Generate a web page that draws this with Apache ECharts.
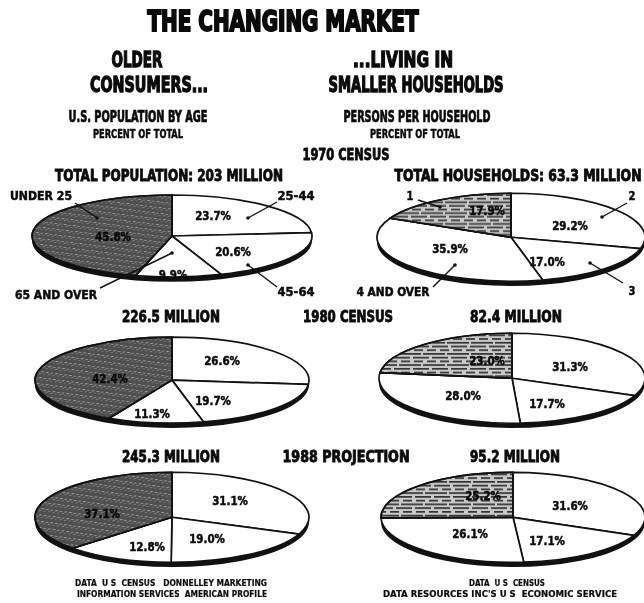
<!DOCTYPE html>
<html>
<head>
<meta charset="utf-8">
<script src="https://cdn.jsdelivr.net/npm/echarts@6/dist/echarts.min.js"></script>
<style>
html, body { margin: 0; padding: 0; background: #fff; }
#wrap { position: relative; width: 644px; height: 603px; overflow: hidden; background: #fff; }
.pie { position: absolute; }
.pie svg path { vector-effect: non-scaling-stroke; }
#text { position: absolute; left: 0; top: 0; width: 644px; height: 603px; z-index: 5; }
</style>
</head>
<body>
<div id="wrap">
  <div id="p0" class="pie"></div>
  <div id="p1" class="pie"></div>
  <div id="p2" class="pie"></div>
  <div id="p3" class="pie"></div>
  <div id="p4" class="pie"></div>
  <div id="p5" class="pie"></div>
  <div id="text"></div>
</div>
<script>
// age groups, clockwise from 12 o'clock
var ageNames = ['25-44', '45-64', '65 AND OVER', 'UNDER 25'];
var age1970 = [23.7, 20.6, 9.9, 45.8];
var age1980 = [26.6, 19.7, 11.3, 42.4];
var age1988 = [31.1, 19.0, 12.8, 37.1];

// persons per household, clockwise from 12 o'clock
var hhNames = ['2', '3', '4 AND OVER', '1'];
var hh1970 = [29.2, 17.0, 35.9, 17.9];
var hh1980 = [31.3, 17.7, 28.0, 23.0];
var hh1988 = [31.6, 17.1, 26.1, 25.2];

var years = ['1970 CENSUS', '1980 CENSUS', '1988 PROJECTION'];
var popTotals = ['TOTAL POPULATION: 203 MILLION', '226.5 MILLION', '245.3 MILLION'];
var hhTotals = ['TOTAL HOUSEHOLDS: 63.3 MILLION', '82.4 MILLION', '95.2 MILLION'];

var FONT = '"Liberation Sans Narrow", "DejaVu Sans Condensed", "Liberation Sans", sans-serif';

// layout of the six tilted pies (centre and half axes in px)
var pieBoxes = [
	{ id: 'p0', cx: 172, cy: 236, rx: 140, ry: 41 },
	{ id: 'p1', cx: 511, cy: 237, rx: 134, ry: 44 },
	{ id: 'p2', cx: 172, cy: 380, rx: 137, ry: 43 },
	{ id: 'p3', cx: 512, cy: 378, rx: 133, ry: 45 },
	{ id: 'p4', cx: 172, cy: 517, rx: 137, ry: 45 },
	{ id: 'p5', cx: 513, cy: 517, rx: 132, ry: 45 }
];

// where the percent labels sit, one list per pie, same order as the data
var labelPos = [
	[[213, 217], [233, 253], [173, 276], [113, 238]],
	[[570, 227], [547, 263], [450, 250], [487, 212]],
	[[222, 362], [213, 402], [152, 415], [110, 380]],
	[[570, 368], [547, 405], [463, 397], [487, 362]],
	[[230, 502], [207, 540], [147, 548], [102, 515]],
	[[570, 507], [547, 542], [470, 535], [483, 497]]
];

var mottled = {
	color: '#4f4f4f',
	decal: {
		symbol: 'circle', symbolSize: 1, color: 'rgba(215,215,215,0.6)',
		dashArrayX: [[2, 3], [1, 4], [3, 2]], dashArrayY: [3, 3], rotation: 0.4
	}
};
var hatched = {
	color: '#c8c8c8',
	decal: {
		symbol: 'rect', symbolSize: 1, color: '#333',
		dashArrayX: [[16, 3], [9, 4], [22, 2]], dashArrayY: [5, 6], rotation: 0
	}
};

var ctx = document.createElement('canvas').getContext('2d');
function fit(text, size, width) {
	ctx.font = 'bold ' + size + 'px ' + FONT;
	var m = ctx.measureText(text).width;
	return width ? width / m : 1;
}

function squash(dom, w, h, k) {
	var svg = dom.querySelector('svg');
	if (!svg) return;
	svg.setAttribute('viewBox', '0 0 ' + w + ' ' + h);
	svg.setAttribute('preserveAspectRatio', 'none');
	svg.setAttribute('height', h * k);
	svg.style.height = (h * k) + 'px';
	var p = svg.parentNode;
	while (p && p !== dom) {
		p.style.height = (h * k) + 'px';
		p = p.parentNode;
	}
	dom.style.height = (h * k) + 'px';
}

function drawPie(box, names, values, special) {
	var k = box.ry / box.rx;
	var off = 4.8 / k;
	var w = Math.ceil(2 * box.rx + 8);
	var h = Math.ceil(2 * box.rx + 8 + 2 * off);
	var dom = document.getElementById(box.id);
	dom.style.left = (box.cx - w / 2) + 'px';
	dom.style.top = (box.cy - h * k / 2) + 'px';
	dom.style.width = w + 'px';
	dom.style.height = h + 'px';
	var chart = echarts.init(dom, null, { renderer: 'svg', width: w, height: h });
	var data = [];
	for (var i = 0; i < values.length; i++) {
		data.push({
			name: names[i],
			value: values[i],
			itemStyle: i === values.length - 1 ? special : { color: '#fff' }
		});
	}
	chart.setOption({
		animation: false,
		backgroundColor: 'transparent',
		series: [{
			type: 'pie',
			silent: true,
			radius: box.rx,
			center: [w / 2, h / 2 + off],
			label: { show: false },
			labelLine: { show: false },
			itemStyle: { color: '#111', borderWidth: 0 },
			data: [{ name: 'rim', value: 1 }],
			z: 1
		}, {
			type: 'pie',
			silent: true,
			radius: box.rx,
			center: [w / 2, h / 2],
			startAngle: 90,
			clockwise: true,
			label: { show: false },
			labelLine: { show: false },
			emphasis: { disabled: true },
			itemStyle: { borderColor: '#111', borderWidth: 1.7 },
			data: data,
			z: 2
		}]
	});
	squash(dom, w, h, k);
	chart.on('finished', function() { squash(dom, w, h, k); });
}

drawPie(pieBoxes[0], ageNames, age1970, mottled);
drawPie(pieBoxes[1], hhNames, hh1970, hatched);
drawPie(pieBoxes[2], ageNames, age1980, mottled);
drawPie(pieBoxes[3], hhNames, hh1980, hatched);
drawPie(pieBoxes[4], ageNames, age1988, mottled);
drawPie(pieBoxes[5], hhNames, hh1988, hatched);

// text overlay
var els = [];
function T(text, x, y, size, width, opt) {
	opt = opt || {};
	var st = {
		text: text,
		font: 'bold ' + size + 'px ' + FONT,
		fill: '#0a0a0a',
		align: opt.align || 'center',
		verticalAlign: 'middle',
		stroke: opt.stroke || '#0a0a0a',
		lineWidth: opt.lw == null ? 0.5 : opt.lw
	};
	els.push({
		type: 'text', x: x, y: y, silent: true, z: 10,
		scaleX: opt.sx || fit(text, size, width),
		style: st
	});
}
function lead(x1, y1, x2, y2) {
	els.push({ type: 'line', silent: true, z: 9, shape: { x1: x1, y1: y1, x2: x2, y2: y2 }, style: { stroke: '#111', lineWidth: 1.4 } });
	els.push({ type: 'circle', silent: true, z: 9, shape: { cx: x2, cy: y2, r: 1.8 }, style: { fill: '#111' } });
}

T('THE CHANGING MARKET', 283, 23, 29, 271, { lw: 2 });
T('OLDER', 137, 62, 21, 51, { lw: 1.3 });
T('CONSUMERS...', 149, 87, 21, 118, { lw: 1.3 });
T('...LIVING IN', 403, 62, 21, 100, { lw: 1.3 });
T('SMALLER HOUSEHOLDS', 416, 87, 21, 175, { lw: 1.3 });
T('U.S. POPULATION BY AGE', 138, 118, 15, 139, { lw: 0.7 });
T('PERCENT OF TOTAL', 138, 135, 13, 90);
T('PERSONS PER HOUSEHOLD', 417, 118, 15, 147, { lw: 0.7 });
T('PERCENT OF TOTAL', 415, 135, 13, 90);

T(years[0], 346, 156, 15, 87, { lw: 0.8 });
T(years[1], 348, 318, 15, 90, { lw: 0.8 });
T(years[2], 346, 458, 15, 127, { lw: 0.8 });
T(popTotals[0], 169, 177, 15, 228, { lw: 0.8 });
T(popTotals[1], 171, 318, 15, 98, { lw: 0.8 });
T(popTotals[2], 171, 458, 15, 98, { lw: 0.8 });
T(hhTotals[0], 518, 177, 15, 247, { lw: 0.8 });
T(hhTotals[1], 516, 318, 15, 92, { lw: 0.8 });
T(hhTotals[2], 515, 458, 15, 90, { lw: 0.8 });

// category call-outs on the 1970 pies
T(ageNames[3], 41, 197, 13, 62);
T(ageNames[0], 296, 197, 13, 37);
T(ageNames[1], 296, 293, 13, 37);
T(ageNames[2], 56, 296, 13, 82);
lead(75, 203, 97, 218);
lead(277, 202, 248, 218);
lead(277, 287, 248, 265);
lead(100, 288, 172, 253);
T(hhNames[3], 410, 197, 13, null, { sx: 0.85 });
T(hhNames[0], 632, 197, 13, null, { sx: 0.85 });
T(hhNames[1], 632, 292, 13, null, { sx: 0.85 });
T(hhNames[2], 393, 293, 13, 73);
lead(418, 200, 440, 207);
lead(627, 203, 602, 217);
lead(623, 283, 590, 263);
lead(433, 287, 455, 265);

// percent labels
var allValues = [age1970, hh1970, age1980, hh1980, age1988, hh1988];
for (var p = 0; p < allValues.length; p++) {
	for (var i = 0; i < allValues[p].length; i++) {
		var dark = i === allValues[p].length - 1;
		T(allValues[p][i].toFixed(1) + '%', labelPos[p][i][0], labelPos[p][i][1], 13, null,
			{ sx: 0.88, lw: 0.5 });
	}
}

// sources
T('DATA  U S  CENSUS   DONNELLEY MARKETING', 171, 584, 9, 192, { lw: 0.2 });
T('INFORMATION SERVICES  AMERICAN PROFILE', 172, 595, 9, 190, { lw: 0.2 });
T('DATA  U S  CENSUS', 507, 584, 9, 76, { lw: 0.2 });
T('DATA RESOURCES INC\'S U S  ECONOMIC SERVICE', 500, 595, 9, 234, { lw: 0.2 });

var textChart = echarts.init(document.getElementById('text'));
textChart.setOption({
	animation: false,
	backgroundColor: 'transparent',
	graphic: { elements: els }
});
</script>
</body>
</html>
